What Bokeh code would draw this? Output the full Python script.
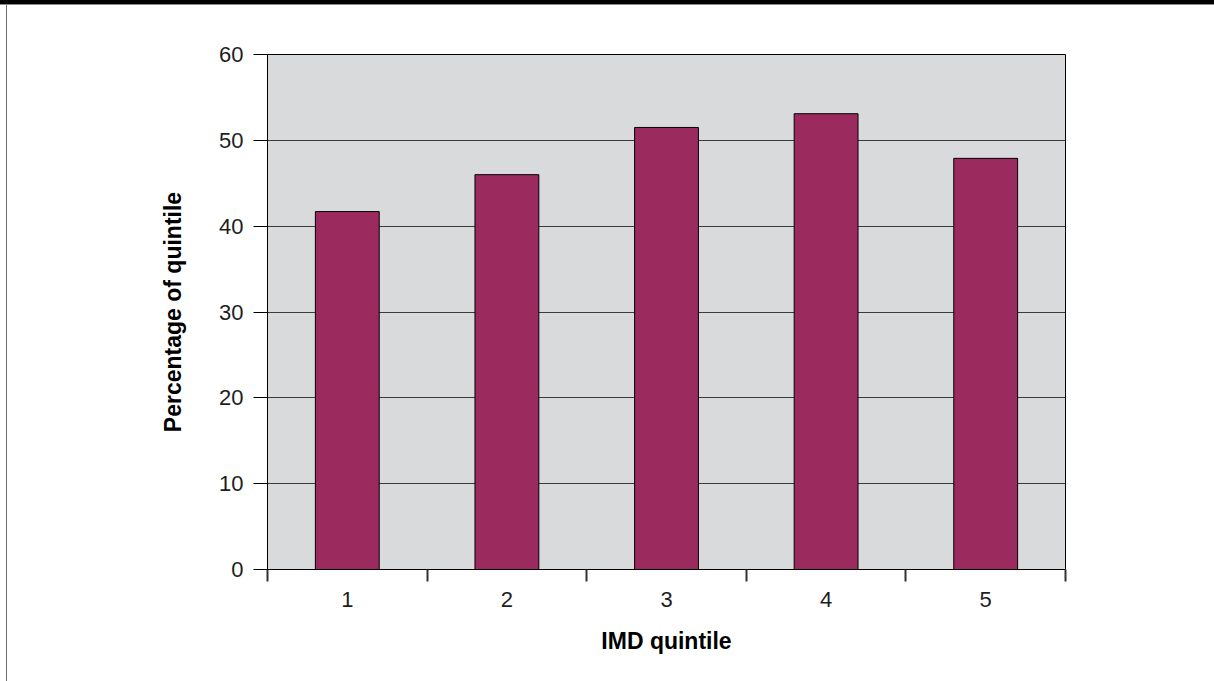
from bokeh.plotting import figure
from bokeh.layouts import column, row
from bokeh.models import Div, Spacer, FixedTicker, ColumnDataSource
from bokeh.embed import file_html
from bokeh.resources import INLINE

# Share of each IMD quintile (percent)
quintiles = [1, 2, 3, 4, 5]
percentages = [41.7, 46.0, 51.5, 53.1, 47.9]
y_ticks = [0, 10, 20, 30, 40, 50, 60]

BAR_COLOR = "#9b2b5e"
PANEL_BG = "#d9dadc"
TICK_FONT = "Liberation Sans"

source = ColumnDataSource(data=dict(x=quintiles, top=percentages))

p = figure(
    width=1207, height=676,
    x_range=(0.5, 5.5), y_range=(0, 60),
    output_backend="svg", toolbar_location=None,
    min_border_left=260, min_border_right=149,
    min_border_top=49, min_border_bottom=112,
)
p.margin = 0
p.background_fill_color = PANEL_BG
p.border_fill_color = "white"
p.outline_line_color = "black"
p.outline_line_width = 1

p.vbar(x="x", top="top", width=0.4, bottom=0, source=source,
       fill_color=BAR_COLOR, line_color="black", line_width=1)

# x axis: labels at category centres, separating ticks between categories
p.xaxis.ticker = FixedTicker(ticks=quintiles,
                             minor_ticks=[q - 0.5 for q in quintiles] + [5.5])
p.xaxis.major_tick_in = 0
p.xaxis.major_tick_out = 0
p.xaxis.minor_tick_in = 0
p.xaxis.minor_tick_out = 12
p.xaxis.minor_tick_line_color = "#333333"
p.xaxis.minor_tick_line_width = 2
p.xaxis.major_label_standoff = 10
p.xaxis.axis_label = "IMD quintile"
p.xaxis.axis_label_standoff = 18

p.yaxis.ticker = FixedTicker(ticks=y_ticks)
p.yaxis.major_tick_in = 0
p.yaxis.major_tick_out = 14
p.yaxis.minor_tick_line_color = None
p.yaxis.major_label_standoff = 10
p.yaxis.axis_label = "Percentage of quintile"
p.yaxis.axis_label_standoff = 30

for ax in (p.xaxis, p.yaxis):
    ax.axis_line_color = "black"
    ax.axis_line_width = 1
    ax.major_tick_line_color = "black"
    ax.major_label_text_font = TICK_FONT
    ax.major_label_text_font_size = "22px"
    ax.major_label_text_color = "#1e1e1e"
    ax.axis_label_text_font = TICK_FONT
    ax.axis_label_text_font_size = "23px"
    ax.axis_label_text_font_style = "bold"
    ax.axis_label_text_color = "black"

p.xgrid.grid_line_color = None
p.ygrid.grid_line_color = "#3a3a3a"
p.ygrid.grid_line_width = 1

# page furniture: black band on top, thin rule on the left
band = Div(text="", width=1214, height=5, margin=0,
           styles={"background-color": "black",
                   "border-bottom": "1px solid #8a8a8a",
                   "box-sizing": "border-box"})
rule = Div(text="", width=1, height=676, margin=0,
           styles={"background-color": "#6e6e6e"})
gap = Spacer(width=6, height=676, margin=0)

layout = column(band, row(gap, rule, p, spacing=0, margin=0),
                spacing=0, margin=0)

open("out.html", "w").write(file_html(layout, INLINE))
